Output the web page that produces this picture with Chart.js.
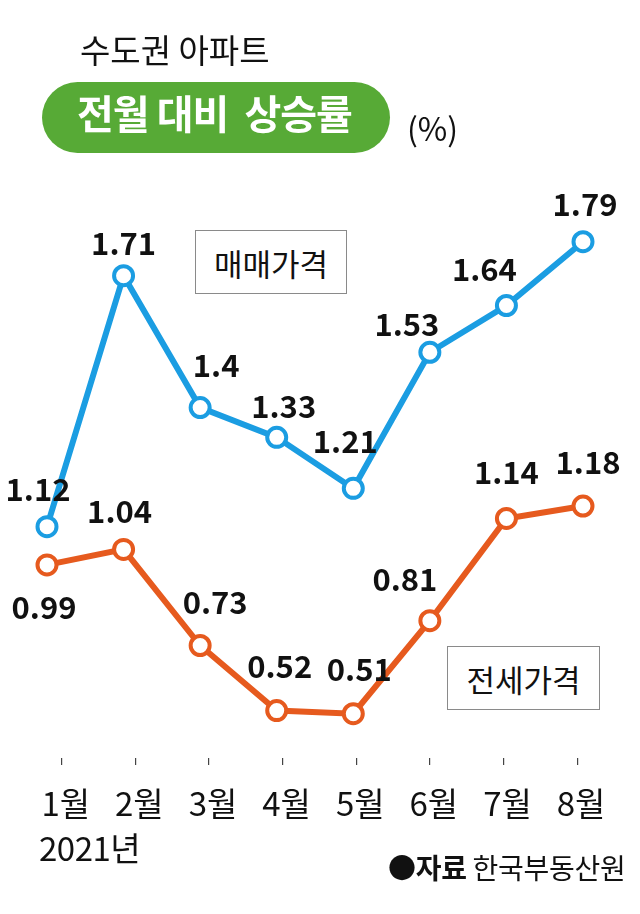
<!DOCTYPE html>
<html><head><meta charset="utf-8">
<script src="https://cdn.jsdelivr.net/npm/chart.js@4/dist/chart.umd.min.js"></script>
<style>
html,body{margin:0;padding:0;background:#fff;}
#wrap{position:relative;width:640px;height:914px;overflow:hidden;font-family:"Noto Sans CJK KR","Noto Sans",sans-serif;}
#c{position:absolute;left:0;top:0;width:640px;height:914px;}
.t{position:absolute;white-space:nowrap;color:#111;line-height:1;}
.box{position:absolute;border:1.5px solid #8a8a8a;box-sizing:border-box;display:flex;align-items:center;justify-content:center;font-size:31px;color:#111;background:#fff;}
</style></head><body>
<div id="wrap">
<canvas id="c" width="640" height="914"></canvas>
<div class="t" style="left:80px;top:33px;font-size:33px;">수도권 아파트</div>
<div style="position:absolute;left:42px;top:82px;width:348px;height:71px;border-radius:36px;background:#57aa36;"></div>
<div class="t" style="left:77px;top:92px;font-size:40px;font-weight:700;color:#fff;letter-spacing:-1px;">전월 대비&nbsp; 상승률</div>
<div class="t" style="left:407px;top:111px;font-size:32px;">(%)</div>
<div class="box" style="left:195px;top:230px;width:152px;height:64px;">매매가격</div>
<div class="box" style="left:447px;top:646px;width:153px;height:64px;">전세가격</div>
<div class="t" style="left:39px;top:831px;font-size:33px;letter-spacing:-0.5px;">2021년</div>
<div class="t" style="left:388px;top:853px;font-size:28px;letter-spacing:-0.3px;"><b>●자료</b> 한국부동산원</div>
</div>
<script>
const months = ['1월','2월','3월','4월','5월','6월','7월','8월'];
const saleValues = [1.12, 1.71, 1.4, 1.33, 1.21, 1.53, 1.64, 1.79];
const jeonseValues = [0.99, 1.04, 0.73, 0.52, 0.51, 0.81, 1.14, 1.18];

// label placement offsets (style): [dx, dy] from each point
const saleLabelOffsets = [[-9,-37],[0,-33],[16,-42],[7,-31],[-8,-47],[-23,-28],[-22,-36],[2,-37]];
const jeonseLabelOffsets = [[-3,42],[-4,-38],[15,-43],[3,-44],[6,-44],[-25,-41],[0,-46],[5,-44]];

const FONT = '"Noto Sans CJK KR","Noto Sans",sans-serif';
const BLUE = '#1b9de2';
const ORANGE = '#e65a1e';

const valueLabels = {
  id: 'valueLabels',
  afterDatasetsDraw(chart) {
    const ctx = chart.ctx;
    ctx.save();
    ctx.font = 'bold 31px ' + FONT;
    ctx.fillStyle = '#111';
    ctx.textAlign = 'center';
    ctx.textBaseline = 'middle';
    chart.data.datasets.forEach((ds, di) => {
      const meta = chart.getDatasetMeta(di);
      const offs = ds.labelOffsets;
      meta.data.forEach((pt, i) => {
        const o = offs[i];
        ctx.fillText(String(ds.data[i]), pt.x + o[0], pt.y + o[1]);
      });
    });
    ctx.restore();
  }
};

new Chart(document.getElementById('c'), {
  type: 'line',
  data: {
    labels: months,
    datasets: [
      {
        label: '매매가격', data: saleValues, yAxisID: 'ySale', xAxisID: 'x',
        borderColor: BLUE, borderWidth: 6, pointRadius: 9.5, pointBorderWidth: 4,
        pointBackgroundColor: '#fff', pointBorderColor: BLUE, tension: 0,
        labelOffsets: saleLabelOffsets
      },
      {
        label: '전세가격', data: jeonseValues, yAxisID: 'yJeonse', xAxisID: 'x',
        borderColor: ORANGE, borderWidth: 6, pointRadius: 9.5, pointBorderWidth: 4,
        pointBackgroundColor: '#fff', pointBorderColor: ORANGE, tension: 0,
        labelOffsets: jeonseLabelOffsets
      }
    ]
  },
  options: {
    responsive: false,
    animation: false,
    devicePixelRatio: 1,
    layout: { padding: { left: 47, right: 57, top: 149, bottom: 76 } },
    plugins: { legend: { display: false }, tooltip: { enabled: false }, title: { display: false } },
    scales: {
      x: { type: 'category', display: false, offset: false },
      x2: {
        type: 'linear', position: 'bottom', min: -0.2, max: 7.08,
        afterBuildTicks: (a) => { a.ticks = months.map((m, i) => ({ value: i })); },
        afterFit: (a) => { a.height = 80; },
        ticks: {
          callback: (v) => months[v], font: { size: 33, family: FONT }, color: '#111',
          padding: 19, labelOffset: 4, autoSkip: false, maxRotation: 0
        },
        grid: { drawOnChartArea: false, drawTicks: true, tickLength: 7, color: '#444', lineWidth: 1.2 },
        border: { display: false }
      },
      ySale: { display: false, min: 0.576, max: 2.008 },
      yJeonse: { display: false, min: 0.367, max: 2.332 }
    }
  },
  plugins: [valueLabels]
});
</script>
</body></html>
